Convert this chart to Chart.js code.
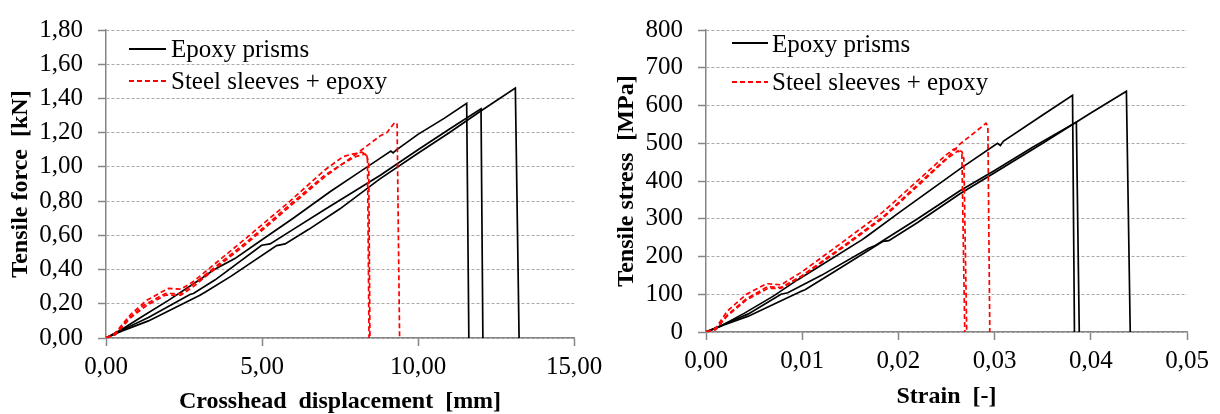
<!DOCTYPE html>
<html>
<head>
<meta charset="utf-8">
<script src="https://cdn.jsdelivr.net/npm/chart.js@4.4.1/dist/chart.umd.min.js"></script>
<style>
    body { margin: 0; background: #fff; width: 1220px; height: 414px; overflow: hidden; }
    .panel { position: absolute; top: 0; width: 610px; height: 414px; }
    .leg-line { position: absolute; height: 2px; }
    .leg-line.solid { background: #000; }
    .leg-line.dash { background: repeating-linear-gradient(to right, #ff0000 0 5px, transparent 5px 8px); }
    .leg-text { position: absolute; font-family: "Liberation Serif", serif; font-size: 25px; line-height: 1; white-space: nowrap; color: #000; }
</style>
</head>
<body>
<div class="panel" style="left:0"><canvas id="forceChart"></canvas></div>
<div class="panel" style="left:610px"><canvas id="stressChart"></canvas></div>

<div class="leg-line solid" style="left:129px; top:48px; width:37px"></div>
<div class="leg-text" style="left:171px; top:36px">Epoxy prisms</div>
<div class="leg-line dash" style="left:129px; top:80px; width:37px"></div>
<div class="leg-text" style="left:171px; top:68px">Steel sleeves + epoxy</div>

<div class="leg-line solid" style="left:732px; top:42px; width:36px"></div>
<div class="leg-text" style="left:772px; top:31px">Epoxy prisms</div>
<div class="leg-line dash" style="left:732px; top:81px; width:36px"></div>
<div class="leg-text" style="left:772px; top:69px">Steel sleeves + epoxy</div>

<script>
// Tick labels
const forceTicks = ['0,00', '0,20', '0,40', '0,60', '0,80', '1,00', '1,20', '1,40', '1,60', '1,80'];
const dispTicks = ['0,00', '5,00', '10,00', '15,00'];
const stressTicks = ['0', '100', '200', '300', '400', '500', '600', '700', '800'];
const strainTicks = ['0,00', '0,01', '0,02', '0,03', '0,04', '0,05'];

// Force vs crosshead displacement - epoxy prisms
const epoxyDispA = [0, 0.5, 1.2, 2, 3, 3.43, 4.13, 5, 6, 7.18, 8, 8.78, 9.13, 9.2, 9.3, 10, 10.85, 11.56, 11.63];
const epoxyForceA = [0, 0.05, 0.13, 0.22, 0.34, 0.396, 0.464, 0.574, 0.7, 0.855, 0.955, 1.05, 1.092, 1.082, 1.098, 1.19, 1.285, 1.372, 0];
const epoxyDispB = [0, 0.5, 1.36, 2.69, 2.8, 3.5, 4.99, 5.26, 6, 7, 8.78, 10, 11, 12.02, 12.08];
const epoxyForceB = [0, 0.045, 0.12, 0.254, 0.26, 0.34, 0.542, 0.55, 0.635, 0.75, 0.95, 1.1, 1.22, 1.339, 0];
const epoxyDispC = [0, 0.5, 1.36, 3.01, 3.2, 4, 5.47, 5.74, 6.5, 7.5, 8.78, 10, 11, 12, 13.12, 13.24];
const epoxyForceC = [0, 0.04, 0.1, 0.25, 0.27, 0.36, 0.54, 0.55, 0.635, 0.755, 0.93, 1.08, 1.2, 1.325, 1.461, 0];

// Force vs crosshead displacement - steel sleeves + epoxy
const steelDisp1 = [0, 0.3, 0.7, 1.2, 1.9, 2.4, 2.7, 3.6, 4.5, 5.9, 7, 7.6, 8.2, 8.78, 9.0, 9.26, 9.33, 9.41];
const steelForce1 = [0, 0.02, 0.11, 0.19, 0.26, 0.26, 0.3, 0.43, 0.56, 0.78, 0.95, 1.02, 1.1, 1.18, 1.2, 1.261, 1.25, 0];
const steelDisp2 = [0, 0.3, 0.8, 1.3, 2.0, 2.4, 2.8, 3.6, 4.5, 5.9, 7, 7.6, 7.9, 8.2, 8.35, 8.42, 8.46];
const steelForce2 = [0, 0.03, 0.14, 0.22, 0.29, 0.285, 0.33, 0.45, 0.585, 0.8, 0.98, 1.06, 1.075, 1.086, 1.07, 1.02, 0];
const steelDisp3 = [0, 0.3, 0.8, 1.3, 1.9, 2.4, 2.8, 3.6, 4.5, 5.9, 7, 7.6, 8.0, 8.3, 8.38, 8.43];
const steelForce3 = [0, 0.02, 0.12, 0.19, 0.25, 0.25, 0.3, 0.42, 0.55, 0.77, 0.94, 1.02, 1.06, 1.075, 1.06, 0];

// Stress vs strain - epoxy prisms
const epoxyStrainA = [0, 0.0015, 0.004, 0.007, 0.0095, 0.0113, 0.0162, 0.0167, 0.02, 0.0264, 0.0303, 0.0306, 0.0309, 0.035, 0.0381, 0.0383];
const epoxyStressA = [0, 15, 50, 95, 138, 166, 244, 253, 315, 432, 500, 494, 505, 575, 627, 0];
const epoxyStrainB = [0, 0.002, 0.0044, 0.0078, 0.0085, 0.012, 0.0169, 0.0176, 0.022, 0.0264, 0.03, 0.034, 0.0385, 0.0388];
const epoxyStressB = [0, 22, 48, 100, 104, 150, 222, 229, 300, 374, 428, 490, 556, 0];
const epoxyStrainC = [0, 0.002, 0.0044, 0.0099, 0.0103, 0.014, 0.0184, 0.019, 0.022, 0.0264, 0.03, 0.035, 0.04, 0.0437, 0.0441];
const epoxyStressC = [0, 20, 42, 108, 112, 170, 240, 242, 290, 366, 422, 500, 580, 638, 0];

// Stress vs strain - steel sleeves + epoxy
const steelStrain1 = [0, 0.001, 0.0022, 0.0042, 0.0064, 0.0078, 0.0099, 0.0143, 0.0184, 0.0224, 0.0252, 0.0264, 0.028, 0.0291, 0.0293, 0.0295];
const steelStress1 = [0, 8, 45, 88, 120, 118, 148, 228, 305, 400, 465, 498, 530, 553, 545, 0];
const steelStrain2 = [0, 0.001, 0.0022, 0.0042, 0.0063, 0.0078, 0.0099, 0.0143, 0.0184, 0.0224, 0.025, 0.0258, 0.0266, 0.0268, 0.0271];
const steelStress2 = [0, 10, 55, 100, 128, 125, 158, 240, 318, 410, 470, 485, 478, 460, 0];
const steelStrain3 = [0, 0.001, 0.0022, 0.0042, 0.0064, 0.0078, 0.0099, 0.0143, 0.0184, 0.0224, 0.025, 0.0262, 0.0266, 0.0269];
const steelStress3 = [0, 6, 42, 85, 115, 116, 146, 225, 302, 396, 458, 480, 470, 0];

const AXIS_GREY = '#868686';
const GRID_GREY = '#a8a8a8';
const SERIF = '"Liberation Serif", "Times New Roman", serif';

function pts(xs, ys) {
    return xs.map((x, i) => ({ x: x, y: ys[i] }));
}

function epoxySet(xs, ys) {
    return { data: pts(xs, ys), borderColor: '#000', borderWidth: 1.7, showLine: true, pointRadius: 0, tension: 0, order: 2 };
}

function steelSet(xs, ys) {
    return { data: pts(xs, ys), borderColor: '#ff0000', borderWidth: 1.7, borderDash: [5, 3], showLine: true, pointRadius: 0, tension: 0, order: 1 };
}

function makeChart(id, datasets, cfg) {
    new Chart(document.getElementById(id), {
        type: 'scatter',
        data: { datasets: datasets },
        options: {
            responsive: true,
            maintainAspectRatio: false,
            animation: false,
            events: [],
            layout: { padding: { top: cfg.top, right: cfg.right, left: 0, bottom: 0 } },
            plugins: { legend: { display: false }, tooltip: { enabled: false } },
            scales: {
                x: {
                    type: 'linear',
                    min: cfg.xMin, max: cfg.xMax,
                    ticks: {
                        stepSize: cfg.xStep,
                        padding: 6,
                        color: '#000',
                        font: { family: SERIF, size: 25 },
                        maxRotation: 0,
                        callback: (v, i) => cfg.xLabels[i]
                    },
                    grid: { drawOnChartArea: false, drawTicks: true, tickLength: 8, tickColor: AXIS_GREY, tickWidth: 1.5 },
                    border: { color: AXIS_GREY, width: 1.5 },
                    title: {
                        display: true, text: cfg.xTitle, color: '#000',
                        font: { family: SERIF, size: 24, weight: 'bold', lineHeight: 1 },
                        padding: { top: 0, bottom: cfg.xTitlePad }
                    },
                    afterFit: s => { s.height = cfg.xHeight; }
                },
                y: {
                    type: 'linear',
                    min: cfg.yMin, max: cfg.yMax,
                    ticks: {
                        stepSize: cfg.yStep,
                        padding: 15,
                        color: '#000',
                        font: { family: SERIF, size: 25 },
                        callback: (v, i) => cfg.yLabels[i]
                    },
                    grid: { color: GRID_GREY, lineWidth: 1, drawTicks: true, tickLength: 8, tickColor: AXIS_GREY, tickWidth: 1.5, tickBorderDash: [] },
                    border: { color: AXIS_GREY, width: 1.5, dash: [3, 2] },
                    title: {
                        display: true, text: cfg.yTitle, color: '#000',
                        font: { family: SERIF, size: 24, weight: 'bold', lineHeight: 1 },
                        padding: { top: cfg.yTitlePad, bottom: 0 }
                    },
                    afterFit: s => { s.width = cfg.yWidth; }
                }
            }
        }
    });
}

makeChart('forceChart', [
    epoxySet(epoxyDispA, epoxyForceA),
    epoxySet(epoxyDispB, epoxyForceB),
    epoxySet(epoxyDispC, epoxyForceC),
    steelSet(steelDisp1, steelForce1),
    steelSet(steelDisp2, steelForce2),
    steelSet(steelDisp3, steelForce3)
], {
    top: 29, right: 36, yWidth: 106, xHeight: 76,
    xMin: 0, xMax: 15, xStep: 5, xLabels: dispTicks,
    yMin: 0, yMax: 1.8, yStep: 0.2, yLabels: forceTicks,
    xTitle: 'Crosshead  displacement  [mm]', yTitle: 'Tensile force  [kN]',
    xTitlePad: 0, yTitlePad: 9
});

makeChart('stressChart', [
    epoxySet(epoxyStrainA, epoxyStressA),
    epoxySet(epoxyStrainB, epoxyStressB),
    epoxySet(epoxyStrainC, epoxyStressC),
    steelSet(steelStrain1, steelStress1),
    steelSet(steelStrain2, steelStress2),
    steelSet(steelStrain3, steelStress3)
], {
    top: 24, right: 33, yWidth: 96, xHeight: 82,
    xMin: 0, xMax: 0.05, xStep: 0.01, xLabels: strainTicks,
    yMin: 0, yMax: 800, yStep: 100, yLabels: stressTicks,
    xTitle: 'Strain  [-]', yTitle: 'Tensile stress  [MPa]',
    xTitlePad: 5, yTitlePad: 5
});
</script>
</body>
</html>
